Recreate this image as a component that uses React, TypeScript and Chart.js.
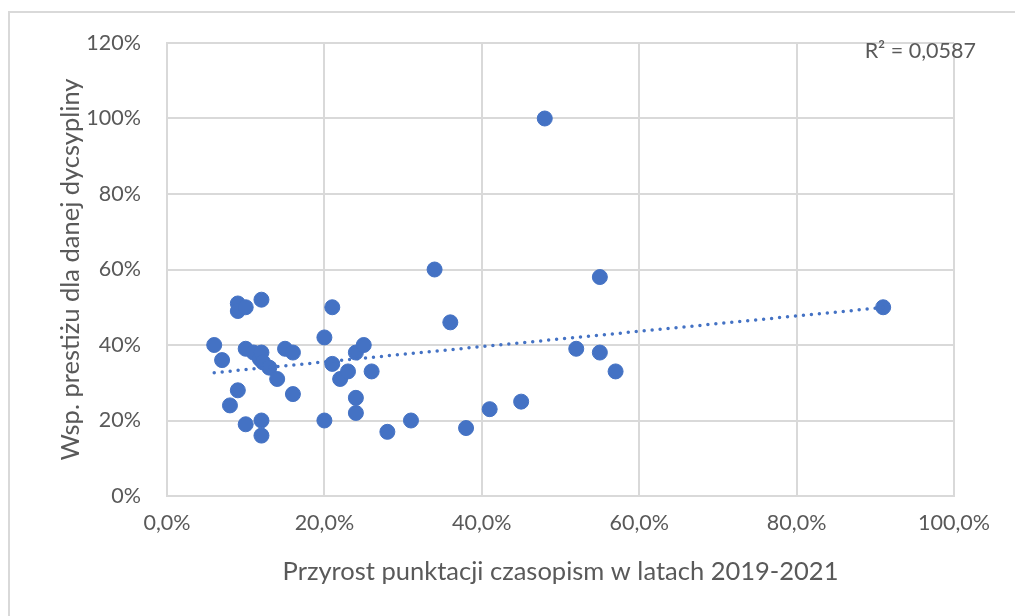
import React, { useEffect, useRef } from "react";
import { Chart, registerables } from "chart.js";

Chart.register(...registerables);

// Przyrost punktacji (%) and Wsp. prestiżu (%)
const xValues = [6, 7, 8, 9, 9, 9, 10, 10, 10, 11, 11.8, 12, 12, 12, 12, 12.2, 13, 14, 15, 16, 16, 20, 20, 21, 21, 22, 23, 24, 24, 24, 25, 26, 28, 31, 34, 36, 38, 41, 45, 48, 52, 55, 55, 57, 91];
const yValues = [40, 36, 24, 51, 49, 28, 50, 39, 19, 38, 36.3, 52, 38, 20, 16, 35.4, 34, 31, 39, 38, 27, 42, 20, 50, 35, 31, 33, 38, 26, 22, 40, 33, 17, 20, 60, 46, 18, 23, 25, 100, 39, 58, 38, 33, 50];
const xTicks = [0, 20, 40, 60, 80, 100];
const yTicks = [0, 20, 40, 60, 80, 100, 120];
const xTitle = "Przyrost punktacji czasopism w latach 2019-2021";
const yTitle = "Wsp. prestiżu dla danej dycsypliny";
const r2Label = "R² = 0,0587";

const BLUE = "#4472C4";
const GRID = "#d9d9d9";
const TEXT = "#595959";
const FONT = "Lato";

function regression(xs: number[], ys: number[]) {
  const n = xs.length;
  const mx = xs.reduce((a, b) => a + b, 0) / n;
  const my = ys.reduce((a, b) => a + b, 0) / n;
  let sxy = 0, sxx = 0;
  for (let i = 0; i < n; i++) {
    sxy += (xs[i] - mx) * (ys[i] - my);
    sxx += (xs[i] - mx) ** 2;
  }
  const slope = sxy / sxx;
  return { slope, intercept: my - slope * mx };
}

export default function App() {
  const ref = useRef<HTMLCanvasElement | null>(null);

  useEffect(() => {
    if (!ref.current) return;
    const points = xValues.map((x, i) => ({ x, y: yValues[i] }));
    const { slope, intercept } = regression(xValues, yValues);
    const xMin = Math.min(...xValues);
    const xMax = Math.max(...xValues);
    const trend = [
      { x: xMin, y: intercept + slope * xMin },
      { x: xMax, y: intercept + slope * xMax },
    ];

    const frame = {
      id: "frame",
      beforeDraw(chart: any) {
        const ctx = chart.ctx;
        ctx.save();
        ctx.fillStyle = "#ffffff";
        ctx.fillRect(0, 0, chart.width, chart.height);
        ctx.strokeStyle = GRID;
        ctx.lineWidth = 2;
        ctx.beginPath();
        ctx.moveTo(9, chart.height);
        ctx.lineTo(9, 12);
        ctx.lineTo(chart.width, 12);
        ctx.stroke();
        ctx.restore();
      },
      afterDraw(chart: any) {
        const ctx = chart.ctx;
        ctx.save();
        ctx.font = `21.5px ${FONT}`;
        ctx.fillStyle = TEXT;
        ctx.textAlign = "right";
        ctx.textBaseline = "middle";
        ctx.fillText(r2Label, 976, 51);
        ctx.restore();
      },
    };

    const chart = new Chart(ref.current, {
      type: "scatter",
      data: {
        datasets: [
          {
            label: "trend",
            data: trend,
            showLine: true,
            borderColor: BLUE,
            borderWidth: 3.5,
            borderDash: [0, 8],
            borderCapStyle: "round",
            pointRadius: 0,
            order: 0,
          } as any,
          {
            label: "dane",
            data: points,
            backgroundColor: BLUE,
            borderColor: BLUE,
            borderWidth: 1,
            pointRadius: 7.5,
            order: 1,
          },
        ],
      },
      options: {
        responsive: false,
        animation: false,
        devicePixelRatio: 1,
        layout: { padding: { left: 0, top: 43, right: 61, bottom: 0 } },
        plugins: { legend: { display: false }, tooltip: { enabled: false } },
        scales: {
          x: {
            type: "linear",
            min: 0,
            max: 100,
            afterFit: (s: any) => { s.height = 120; },
            afterBuildTicks: (s: any) => { s.ticks = xTicks.map((v) => ({ value: v })); },
            grid: { color: GRID, lineWidth: 2, drawTicks: false },
            border: { color: GRID, width: 2 },
            ticks: {
              padding: 14,
              color: TEXT,
              font: { family: FONT, size: 21.5 },
              callback: (v: any) => Number(v).toFixed(1).replace(".", ",") + "%",
            },
            title: {
              display: true,
              text: xTitle,
              color: TEXT,
              font: { family: FONT, size: 25.5 },
              padding: { top: 0, bottom: 29 },
            },
          },
          y: {
            type: "linear",
            min: 0,
            max: 120,
            afterFit: (s: any) => { s.width = 167; },
            afterBuildTicks: (s: any) => { s.ticks = yTicks.map((v) => ({ value: v })); },
            grid: { color: GRID, lineWidth: 2, drawTicks: false },
            border: { color: GRID, width: 2 },
            ticks: {
              padding: 26,
              color: TEXT,
              font: { family: FONT, size: 21.5 },
              callback: (v: any) => v + "%",
            },
            title: {
              display: true,
              text: yTitle,
              color: TEXT,
              font: { family: FONT, size: 25.5 },
              padding: { top: 55, bottom: 0 },
            },
          },
        },
      },
      plugins: [frame],
    });
    return () => chart.destroy();
  }, []);

  return (
    <div style={{ position: "absolute", left: 0, top: 0, width: 1015, height: 616 }}>
      <canvas ref={ref} width={1015} height={616} style={{ width: 1015, height: 616, display: "block" }} />
    </div>
  );
}
